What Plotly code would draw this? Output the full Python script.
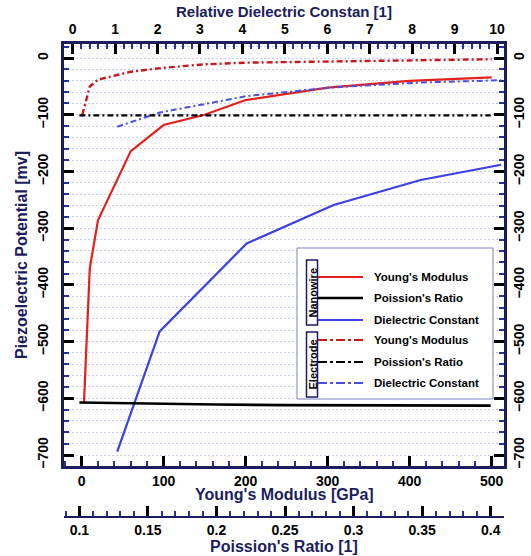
import plotly.graph_objects as go

# ---------------- data ----------------
young_nw_x = [3, 10, 20, 60, 100, 150, 200, 300, 400, 500]
young_nw_y = [-607, -371, -286, -164, -118, -100, -74, -52, -40, -34]

young_el_x = [1, 10, 20, 60, 100, 150, 200, 300, 400, 500]
young_el_y = [-100, -50, -38, -24, -17, -11, -8, -6, -5, -2]

poisson_x = [0.1, 0.15, 0.2, 0.25, 0.3, 0.35, 0.4]
poisson_nw_y = [-607.5, -609.5, -611, -612, -612.5, -613, -613]
poisson_el_y = [-101, -101, -101, -101, -101, -101, -101]

diel_x = [1.05, 2.05, 4.1, 6.15, 8.2, 10.1]
diel_nw_y = [-694, -482, -327, -259, -215, -188]
diel_el_y = [-121, -96, -67, -51.5, -43, -39]

legend_groups = ["Nanowire", "Electrode"]
legend_labels = ["Young's Modulus", "Poission's Ratio", "Dielectric Constant"]
axis_titles = {
    'top': "Relative Dielectric Constan [1]",
    'bottom': "Young's Modulus [GPa]",
    'poisson': "Poission's Ratio [1]",
    'left': "Piezoelectric Potential [mv]",
}

# ---------------- styling ----------------
W, H = 531, 556
# plot area in page pixels: x 64..504, y 44..466; Poisson axis at y=517
ML, MR, MT, MB = 64, 531 - 504, 44, 556 - 517
PW, PH = W - ML - MR, H - MT - MB
navy = '#1b1d5c'
red = '#e3201b'
red_d = '#c8161a'
blue = '#3b3fe6'
blue_d = '#4a4fe0'
grid = '#c6cbee'
FONT = 'Arial, Liberation Sans, sans-serif'

def px(xp):
    """page x pixel -> paper fraction"""
    return (xp - ML) / PW

def py(yp):
    """page y pixel -> paper fraction"""
    return (H - MB - yp) / PH

fig = go.Figure()

# nanowire (solid)
fig.add_trace(go.Scatter(x=poisson_x, y=poisson_nw_y, xaxis='x3', yaxis='y', mode='lines',
                         line=dict(color='black', width=2.6), showlegend=False, hoverinfo='skip'))
fig.add_trace(go.Scatter(x=young_nw_x, y=young_nw_y, xaxis='x', yaxis='y', mode='lines',
                         line=dict(color=red, width=2.2), showlegend=False))
fig.add_trace(go.Scatter(x=diel_x, y=diel_nw_y, xaxis='x2', yaxis='y', mode='lines',
                         line=dict(color=blue, width=2.2), showlegend=False))
# electrode (dash-dot)
dd = '6px,3px,2px,3px'
fig.add_trace(go.Scatter(x=poisson_x, y=poisson_el_y, xaxis='x3', yaxis='y', mode='lines',
                         line=dict(color='black', width=2.4, dash=dd), showlegend=False))
fig.add_trace(go.Scatter(x=young_el_x, y=young_el_y, xaxis='x', yaxis='y', mode='lines',
                         line=dict(color=red_d, width=2.4, dash=dd), showlegend=False))
fig.add_trace(go.Scatter(x=diel_x, y=diel_el_y, xaxis='x2', yaxis='y', mode='lines',
                         line=dict(color=blue_d, width=2.0, dash=dd), showlegend=False))
# dummy trace for the right axis
fig.add_trace(go.Scatter(x=[None], y=[None], xaxis='x', yaxis='y2', mode='lines', showlegend=False,
                         hoverinfo='skip'))

tickfont = dict(family=FONT, size=14, color='black', weight='bold')
titlefont = dict(family=FONT, size=16, color=navy, weight='bold')

common = dict(showline=True, linecolor=navy, linewidth=3, ticks='inside', ticklen=10,
              tickwidth=2.5, tickcolor='black', tickfont=tickfont, zeroline=False,
              showgrid=False, automargin=False)
minor_t = dict(ticks='inside', ticklen=5, tickwidth=1.5, tickcolor='#2a2fa0')

yrange = [-719.4, 24.9]

fig.update_layout(
    width=W, height=H, margin=dict(l=ML, r=MR, t=MT, b=MB, autoexpand=False),
    paper_bgcolor='white', plot_bgcolor='white', showlegend=False,
    xaxis=dict(**common, domain=[0, 1], anchor='y', side='bottom', range=[-21.4, 515],
               tick0=0, dtick=100, minor=dict(dtick=20, **minor_t)),
    xaxis2=dict(**common, overlaying='x', anchor='y', side='top', range=[-0.205, 10.165],
                tick0=0, dtick=1, minor=dict(dtick=0.2, **minor_t), ticklabelstandoff=1),
    xaxis3=dict(**{**common, 'linewidth': 2}, overlaying='x', anchor='free', position=0, side='bottom',
                range=[0.0888, 0.4097], tick0=0.1, dtick=0.05, minor=dict(dtick=0.01, **minor_t)),
    yaxis=dict(**{**common, 'showgrid': True}, domain=[(H - MB - 466) / PH, 1], anchor='x', side='left',
               range=yrange, tick0=0, dtick=100, tickangle=-90, ticklabelstandoff=7,
               gridcolor=grid, griddash='2px,2px', gridwidth=1,
               minor=dict(dtick=20, showgrid=True, gridcolor=grid, griddash='2px,2px', gridwidth=1, **minor_t)),
    yaxis2=dict(**common, overlaying='y', anchor='x', side='right', range=yrange,
                tick0=0, dtick=100, tickangle=-90, minor=dict(dtick=20, **minor_t)),
)

# ---------------- axis titles (as text) ----------------
annotations = [
    dict(xref='paper', yref='paper', x=px(284), y=py(12), text=axis_titles['top'], showarrow=False,
         xanchor='center', yanchor='middle', font=dict(family=FONT, size=15, color=navy, weight='bold')),
    dict(xref='paper', yref='paper', x=px(284), y=py(494), text=axis_titles['bottom'], showarrow=False,
         xanchor='center', yanchor='middle', font=titlefont),
    dict(xref='paper', yref='paper', x=px(284), y=py(546), text=axis_titles['poisson'], showarrow=False,
         xanchor='center', yanchor='middle', font=titlefont),
    dict(xref='paper', yref='paper', x=px(22), y=py(255), text=axis_titles['left'], showarrow=False,
         textangle=-90, xanchor='center', yanchor='middle', font=titlefont),
]

# ---------------- manual legend ----------------
shapes = []
shapes.append(dict(type='rect', xref='paper', yref='paper', x0=px(297), x1=px(493), y0=py(399), y1=py(248),
                   line=dict(color='#7d82c2', width=1), fillcolor='white', layer='above'))
for name, (ya, yb) in zip(legend_groups, [(260, 325), (332, 397)]):
    shapes.append(dict(type='rect', xref='paper', yref='paper', x0=px(306.5), x1=px(317.5), y0=py(yb), y1=py(ya),
                       line=dict(color=navy, width=1.5), layer='above'))
    annotations.append(dict(xref='paper', yref='paper', x=px(312), y=py((ya + yb) / 2), text=name,
                            textangle=-90, showarrow=False, xanchor='center', yanchor='middle',
                            font=dict(family=FONT, size=11, color='black', weight='bold')))
rows_y = [277, 298, 320, 340, 362, 383]
styles = [(red, None, 2.2), ('black', None, 2.6), (blue, None, 2.2),
          (red_d, dd, 2.2), ('black', dd, 2.2), (blue_d, dd, 1.8)]
for i, yy in enumerate(rows_y):
    col, dsh, wd = styles[i]
    ln = dict(color=col, width=wd)
    if dsh:
        ln['dash'] = 'dashdot'
    shapes.append(dict(type='line', xref='paper', yref='paper', x0=px(318), x1=px(363), y0=py(yy), y1=py(yy),
                       line=ln, layer='above'))
    annotations.append(dict(xref='paper', yref='paper', x=px(372), y=py(yy), text=legend_labels[i % 3],
                            showarrow=False, xanchor='left', yanchor='middle',
                            font=dict(family=FONT, size=11.5, color='black', weight='bold')))
fig.update_layout(shapes=shapes, annotations=annotations)

# remove the default 8px body margin so the figure fills the window exactly
fig.write_html("out.html", config={'displayModeBar': False},
               post_script="document.body.style.margin='0';document.body.style.overflow='hidden';")
